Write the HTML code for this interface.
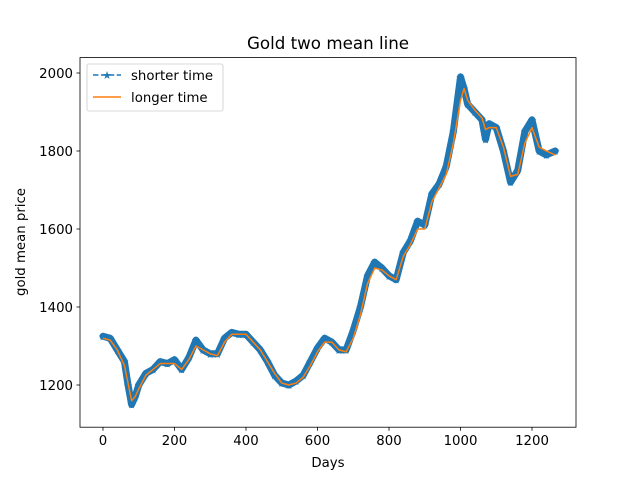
<!DOCTYPE html>
<html><head><meta charset="utf-8"><style>
body{margin:0;background:#fff}
svg{font-family:"DejaVu Sans","Liberation Sans",sans-serif}
</style></head><body>
<svg id="chart" width="640" height="480" viewBox="0 0 640 480">
<rect width="640" height="480" fill="#fff"/>
<text x="328" y="49" font-size="16.7" text-anchor="middle">Gold two mean line</text>
<g id="plot"></g>
<rect x="80" y="57.6" width="496" height="369.6" fill="none" stroke="#000" stroke-width="0.8"/>
<g id="ticks" font-size="13.3" fill="#000"></g>
<text x="328" y="467" font-size="13.3" text-anchor="middle">Days</text>
<text transform="translate(25,242) rotate(-90)" font-size="13.3" text-anchor="middle">gold mean price</text>
<g>
<rect x="87" y="64" width="136" height="47" rx="2" fill="#fff" fill-opacity="0.8" stroke="#ccc" stroke-width="0.8"/>
<g>
<line x1="93" y1="75" x2="121" y2="75" stroke="#1f77b4" stroke-width="1.5" stroke-dasharray="5.5,2.4"/>
<text x="107" y="79" font-size="11" fill="#1f77b4" text-anchor="middle">★</text>
<text x="131" y="80" font-size="13.3">shorter time</text></g>
<g>
<line x1="93" y1="97" x2="121" y2="97" stroke="#ff7f0e" stroke-width="1.5"/>
<text x="131" y="102" font-size="13.3">longer time</text></g>
</g>
</svg>
<script>
const days=[0,20,40,60,70,80,90,100,120,140,160,180,200,220,240,260,280,300,320,340,360,380,400,420,440,460,480,500,520,540,560,580,600,620,640,660,680,700,720,740,760,780,800,820,840,860,880,900,920,940,960,980,1000,1010,1020,1040,1060,1070,1080,1100,1120,1140,1160,1180,1200,1220,1240,1265];
const shorter=[1325,1320,1290,1260,1200,1150,1170,1200,1230,1240,1260,1255,1265,1240,1270,1315,1290,1280,1280,1320,1335,1330,1330,1310,1290,1260,1225,1205,1200,1210,1225,1260,1295,1320,1310,1290,1290,1340,1400,1480,1515,1500,1480,1470,1540,1570,1620,1610,1690,1715,1760,1850,1990,1960,1920,1900,1880,1830,1870,1860,1800,1720,1750,1850,1880,1800,1790,1800];
const longer=[1320,1315,1290,1250,1205,1160,1170,1190,1225,1240,1255,1255,1255,1240,1265,1300,1290,1280,1275,1310,1330,1330,1330,1310,1290,1260,1230,1205,1200,1205,1220,1250,1285,1310,1310,1290,1285,1320,1380,1460,1500,1495,1480,1470,1530,1560,1600,1600,1670,1705,1740,1820,1930,1960,1930,1905,1885,1855,1860,1860,1810,1735,1740,1820,1860,1810,1800,1790];
const xTicks=[0,200,400,600,800,1000,1200];
const yTicks=[1200,1400,1600,1800,2000];
const X=d=>103+d*(429/1200);
const Y=v=>385-(v-1200)*0.39;
const NS="http://www.w3.org/2000/svg";
const plot=document.getElementById('plot'),tk=document.getElementById('ticks');
function mk(t,a,p){const e=document.createElementNS(NS,t);for(const k in a)e.setAttribute(k,a[k]);p.appendChild(e);return e;}
const ps=days.map((d,i)=>X(d)+','+Y(shorter[i])).join(' ');
const band=mk('polyline',{points:ps,fill:'none',stroke:'#1f77b4','stroke-width':7,'stroke-linejoin':'round','stroke-linecap':'round'},plot);


days.forEach((d,i)=>{const s=mk('text',{x:X(d),y:Y(shorter[i])+4,'font-size':11,fill:'#1f77b4','text-anchor':'middle'},plot);s.textContent='★';

});
const pl=mk('polyline',{points:days.map((d,i)=>X(d)+','+Y(longer[i])).join(' '),fill:'none',stroke:'#ff7f0e','stroke-width':1.5,'stroke-linejoin':'round'},plot);


xTicks.forEach(t=>{mk('line',{x1:X(t),x2:X(t),y1:427.2,y2:430.7,stroke:'#000','stroke-width':0.8},tk);
const l=mk('text',{x:X(t),y:445,'text-anchor':'middle'},tk);l.textContent=t;

});
yTicks.forEach(t=>{mk('line',{x1:76.5,x2:80,y1:Y(t),y2:Y(t),stroke:'#000','stroke-width':0.8},tk);
const l=mk('text',{x:73,y:Y(t)+5,'text-anchor':'end'},tk);l.textContent=t;

});
</script>
</body></html>
